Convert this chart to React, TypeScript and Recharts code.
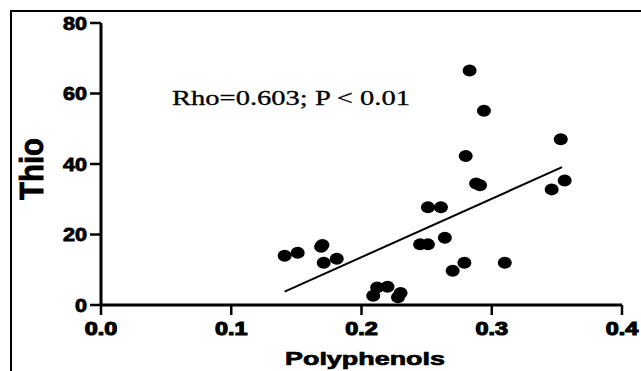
import React from 'react';
import {
  ScatterChart,
  Scatter,
  XAxis,
  YAxis,
  ReferenceLine,
} from 'recharts';

// polyphenols (x) vs thio (y)
const polyphenols = [
  0.141, 0.151, 0.169, 0.170, 0.171, 0.181,
  0.209, 0.212, 0.220, 0.228, 0.230,
  0.245, 0.251, 0.251, 0.261, 0.264, 0.270, 0.279, 0.280, 0.283,
  0.288, 0.291, 0.294, 0.310, 0.346, 0.353, 0.356,
];
const thio = [
  14.0, 14.8, 16.5, 17.0, 12.0, 13.1,
  2.6, 5.0, 5.2, 2.2, 3.4,
  17.2, 17.2, 27.7, 27.7, 19.1, 9.7, 12.0, 42.3, 66.5,
  34.5, 34.0, 55.1, 12.0, 32.8, 47.0, 35.3,
];
const fitLine = [
  { x: 0.141, y: 3.8 },
  { x: 0.354, y: 39.1 },
];
const xTicks = [0, 0.1, 0.2, 0.3, 0.4];
const yTicks = [0, 20, 40, 60, 80];
const statText = 'Rho=0.603; P < 0.01';

const data = polyphenols.map((x, i) => ({ x, y: thio[i] }));

const SANS = 'Arial, "Liberation Sans", sans-serif';

const Dot = (props: any) => {
  const { cx, cy } = props;
  if (cx == null || cy == null) return null;
  return <ellipse cx={cx} cy={cy} rx={7} ry={6} fill="#000" />;
};

// tick label, stretched sideways like the scanned figure
const TickText = ({ x, y, label, anchor, dy, sx, sw }: any) => (
  <g transform={`translate(${x},${y}) scale(${sx},1)`}>
    <text
      x={0}
      y={0}
      dy={dy}
      textAnchor={anchor}
      fontFamily={SANS}
      fontSize={18}
      fontWeight={700}
      fill="#000"
      stroke="#000"
      strokeWidth={sw}
    >
      {label}
    </text>
  </g>
);

const renderYTick = ({ x, y, payload }: any) => (
  <TickText key={`y-${payload.value}`} x={x} y={y} label={String(payload.value)} anchor="end" dy={6.5} sx={1.2} sw={0.8} />
);

const renderXTick = ({ x, y, payload }: any) => (
  <TickText key={`x-${payload.value}`} x={x} y={y} label={Number(payload.value).toFixed(1)} anchor="middle" dy={18.5} sx={1.3} sw={1.1} />
);

export default function App() {
  return (
    <div style={{ position: 'absolute', left: 0, top: 0, width: 641, height: 371, background: '#fff', overflow: 'hidden' }}>
      <div
        style={{
          position: 'absolute',
          left: 10,
          top: 10,
          width: 631,
          height: 361,
          borderTop: '2px solid #000',
          borderLeft: '2px solid #000',
          boxSizing: 'border-box',
        }}
      />
      <div style={{ position: 'absolute', left: 0, top: 0 }}>
        <ScatterChart width={641} height={371} margin={{ top: 23, right: 19, bottom: 16, left: 41 }}>
          <XAxis
            type="number"
            dataKey="x"
            domain={[0, 0.4]}
            ticks={xTicks}
            height={50}
            tickSize={10}
            tickMargin={2}
            tick={renderXTick}
            axisLine={{ stroke: '#000', strokeWidth: 3 }}
            tickLine={{ stroke: '#000', strokeWidth: 2.5 }}
          />
          <YAxis
            type="number"
            dataKey="y"
            domain={[0, 80]}
            ticks={yTicks}
            width={60}
            tickSize={11}
            tickMargin={3}
            tick={renderYTick}
            axisLine={{ stroke: '#000', strokeWidth: 3 }}
            tickLine={{ stroke: '#000', strokeWidth: 2.5 }}
          />
          <ReferenceLine segment={fitLine} stroke="#000" strokeWidth={2} ifOverflow="visible" />
          <Scatter data={data} shape={<Dot />} isAnimationActive={false} />
        </ScatterChart>
      </div>
      <svg width={641} height={371} style={{ position: 'absolute', left: 0, top: 0, pointerEvents: 'none' }}>
        <text
          x={172}
          y={105}
          fontFamily='"Liberation Serif", "Times New Roman", serif'
          fontSize={21}
          textLength={238}
          lengthAdjust="spacingAndGlyphs"
          fill="#000"
          stroke="#000"
          strokeWidth={0.3}
        >
          {statText}
        </text>
        <text
          x={365}
          y={365}
          textAnchor="middle"
          fontFamily={SANS}
          fontSize={19}
          fontWeight={700}
          textLength={160}
          lengthAdjust="spacingAndGlyphs"
          fill="#000"
          stroke="#000"
          strokeWidth={0.7}
        >
          Polyphenols
        </text>
        <text
          transform="translate(43,169) scale(1.3,1) rotate(-90)"
          textAnchor="middle"
          fontFamily={SANS}
          fontSize={26}
          fontWeight={700}
          textLength={62}
          lengthAdjust="spacingAndGlyphs"
          fill="#000"
          stroke="#000"
          strokeWidth={0.7}
        >
          Thio
        </text>
      </svg>
    </div>
  );
}
